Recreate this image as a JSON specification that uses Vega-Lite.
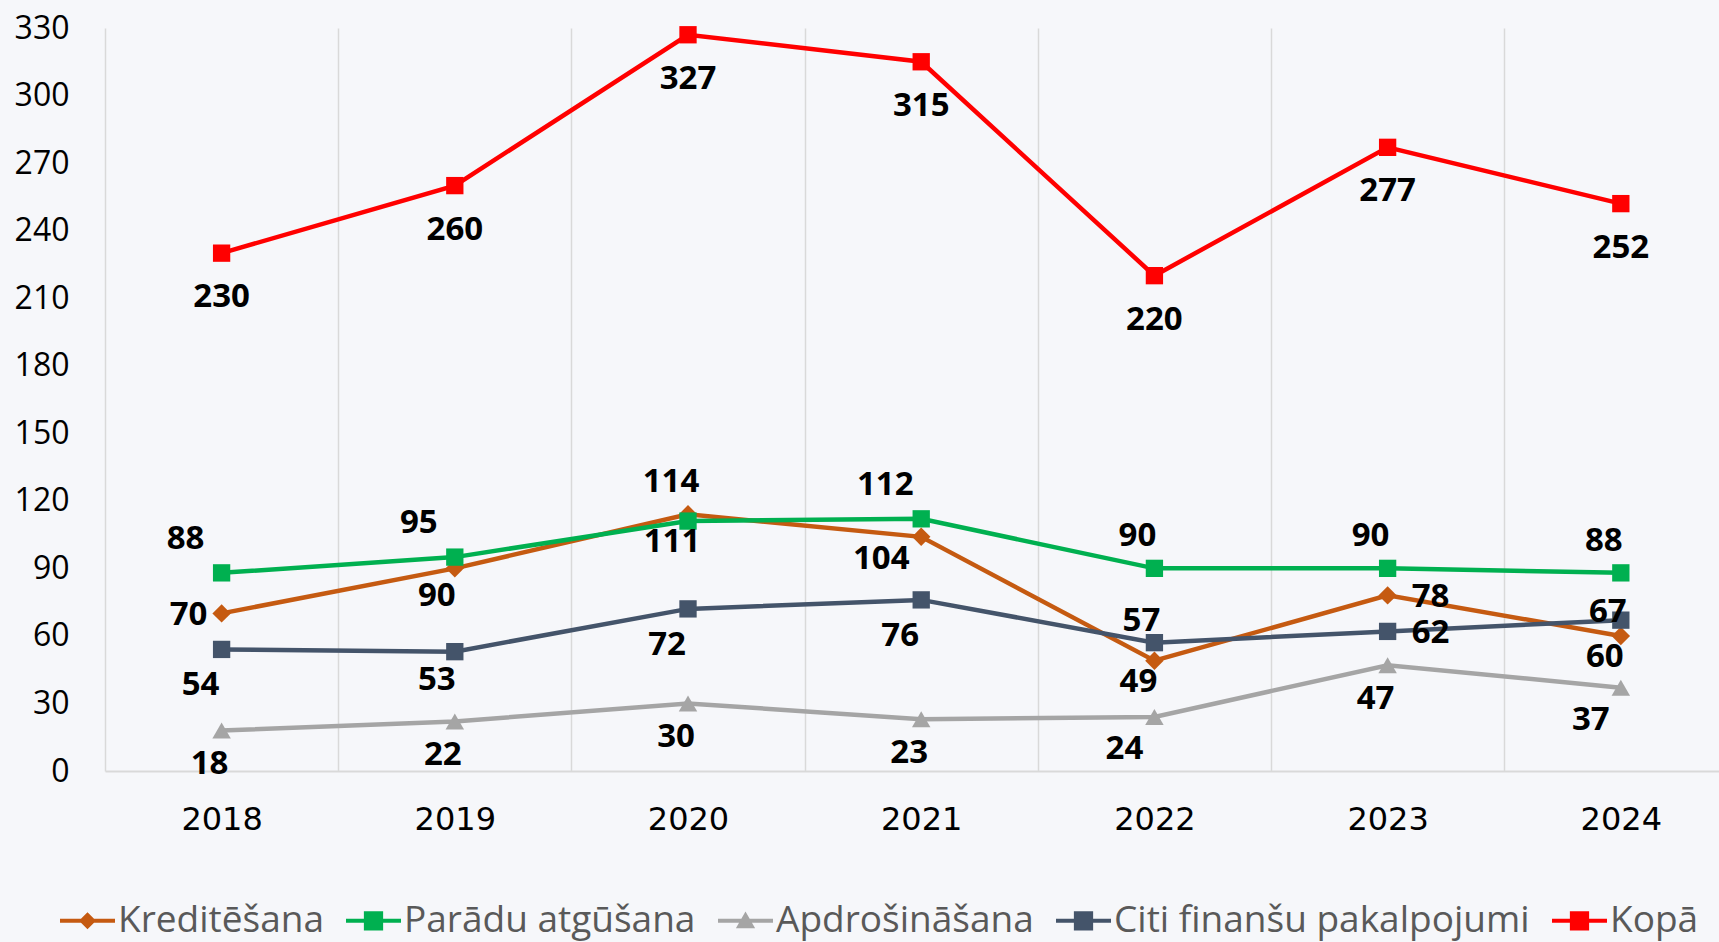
{
  "$schema": "https://vega.github.io/schema/vega-lite/v6.json",
  "autosize": {"type": "none"},
  "width": 1614,
  "height": 743,
  "padding": {"left": 105, "top": 28, "right": 0, "bottom": 171},
  "background": "#f6f7fa",
  "config": {
    "view": {"stroke": null},
    "text": {"font": "Open Sans", "fontSize": 33, "fontWeight": "bold", "fill": "#000000", "align": "center", "baseline": "middle"},
    "legend": {
      "title": null,
      "orient": "none",
      "legendX": -45,
      "legendY": 865,
      "direction": "horizontal",
      "symbolSize": 3025,
      "symbolStrokeWidth": 0,
      "symbolOpacity": 1,
      "labelFont": "Open Sans",
      "labelFontSize": 37,
      "labelColor": "#595959",
      "labelOffset": 3,
      "labelLimit": 0,
      "columnPadding": 22
    }
  },
  "data": {
    "values": [
      {"series": "Kreditēšana", "year": 2018, "value": 70},
      {"series": "Kreditēšana", "year": 2019, "value": 90},
      {"series": "Kreditēšana", "year": 2020, "value": 114},
      {"series": "Kreditēšana", "year": 2021, "value": 104},
      {"series": "Kreditēšana", "year": 2022, "value": 49},
      {"series": "Kreditēšana", "year": 2023, "value": 78},
      {"series": "Kreditēšana", "year": 2024, "value": 60},
      {"series": "Parādu atgūšana", "year": 2018, "value": 88},
      {"series": "Parādu atgūšana", "year": 2019, "value": 95},
      {"series": "Parādu atgūšana", "year": 2020, "value": 111},
      {"series": "Parādu atgūšana", "year": 2021, "value": 112},
      {"series": "Parādu atgūšana", "year": 2022, "value": 90},
      {"series": "Parādu atgūšana", "year": 2023, "value": 90},
      {"series": "Parādu atgūšana", "year": 2024, "value": 88},
      {"series": "Apdrošināšana", "year": 2018, "value": 18},
      {"series": "Apdrošināšana", "year": 2019, "value": 22},
      {"series": "Apdrošināšana", "year": 2020, "value": 30},
      {"series": "Apdrošināšana", "year": 2021, "value": 23},
      {"series": "Apdrošināšana", "year": 2022, "value": 24},
      {"series": "Apdrošināšana", "year": 2023, "value": 47},
      {"series": "Apdrošināšana", "year": 2024, "value": 37},
      {"series": "Citi finanšu pakalpojumi", "year": 2018, "value": 54},
      {"series": "Citi finanšu pakalpojumi", "year": 2019, "value": 53},
      {"series": "Citi finanšu pakalpojumi", "year": 2020, "value": 72},
      {"series": "Citi finanšu pakalpojumi", "year": 2021, "value": 76},
      {"series": "Citi finanšu pakalpojumi", "year": 2022, "value": 57},
      {"series": "Citi finanšu pakalpojumi", "year": 2023, "value": 62},
      {"series": "Citi finanšu pakalpojumi", "year": 2024, "value": 67},
      {"series": "Kopā", "year": 2018, "value": 230},
      {"series": "Kopā", "year": 2019, "value": 260},
      {"series": "Kopā", "year": 2020, "value": 327},
      {"series": "Kopā", "year": 2021, "value": 315},
      {"series": "Kopā", "year": 2022, "value": 220},
      {"series": "Kopā", "year": 2023, "value": 277},
      {"series": "Kopā", "year": 2024, "value": 252}
    ]
  },
  "encoding": {
    "x": {
      "field": "year", "type": "quantitative",
      "scale": {"domain": [2017.5, 2024.421], "nice": false, "zero": false},
      "axis": {
        "title": null,
        "values": [2017.5, 2018.5, 2019.5, 2020.5, 2021.5, 2022.5, 2023.5],
        "labelExpr": "format(datum.value + 0.5, 'd')",
        "labelOffset": 116.6,
        "grid": true, "gridColor": "#d9d9d9", "gridWidth": 1.5,
        "domain": true, "domainColor": "#d9d9d9", "domainWidth": 2,
        "ticks": false,
        "labelFont": "DejaVu Sans", "labelFontSize": 32, "labelColor": "#000000",
        "labelPadding": 33, "labelAlign": "center"
      }
    },
    "y": {
      "field": "value", "type": "quantitative",
      "scale": {"domain": [0, 330], "nice": false},
      "axis": {
        "title": null,
        "values": [0, 30, 60, 90, 120, 150, 180, 210, 240, 270, 300, 330],
        "grid": false, "domain": false, "ticks": false,
        "labelFont": "Open Sans", "labelFontSize": 32, "labelColor": "#000000",
        "labelPadding": 36, "labelBaseline": "middle"
      }
    },
    "color": {
      "field": "series", "type": "nominal",
      "scale": {
        "domain": ["Kreditēšana", "Parādu atgūšana", "Apdrošināšana", "Citi finanšu pakalpojumi", "Kopā"],
        "range": ["#c55a11", "#00b050", "#a5a5a5", "#44546a", "#ff0000"]
      }
    }
  },
  "layer": [
    {
      "mark": {"type": "line", "strokeWidth": 4.5}
    },
    {
      "transform": [{"filter": "datum.value < 0"}],
      "mark": {"type": "point", "filled": true, "opacity": 1},
      "encoding": {
        "shape": {
          "field": "series", "type": "nominal",
          "scale": {
            "domain": ["Kreditēšana", "Parādu atgūšana", "Apdrošināšana", "Citi finanšu pakalpojumi", "Kopā"],
            "range": [
              "M-1,-0.075H1V0.075H-1ZM0,-0.31L0.31,0L0,0.31L-0.31,0Z",
              "M-1,-0.075H1V0.075H-1ZM-0.35,-0.35H0.35V0.35H-0.35Z",
              "M-1,-0.075H1V0.075H-1ZM0,-0.34L0.35,0.27H-0.35Z",
              "M-1,-0.075H1V0.075H-1ZM-0.35,-0.35H0.35V0.35H-0.35Z",
              "M-1,-0.075H1V0.075H-1ZM-0.35,-0.35H0.35V0.35H-0.35Z"
            ]
          }
        }
      }
    },
    {
      "transform": [{"filter": "datum.series === 'Kreditēšana'"}],
      "mark": {"type": "point", "filled": true, "size": 340, "opacity": 1, "shape": "diamond"}
    },
    {
      "transform": [{"filter": "datum.series === 'Apdrošināšana'"}],
      "mark": {"type": "point", "filled": true, "size": 340, "opacity": 1, "shape": "triangle-up"}
    },
    {
      "transform": [{"filter": "datum.series !== 'Kreditēšana' && datum.series !== 'Apdrošināšana'"}],
      "mark": {"type": "point", "filled": true, "size": 300, "opacity": 1, "shape": "square"}
    },
    {
      "transform": [{"filter": "datum.series === 'Kopā'"}],
      "mark": {"type": "text", "dx": 0, "dy": 44},
      "encoding": {"text": {"field": "value", "type": "quantitative"}, "color": {"value": "#000000"}}
    },
    {
      "transform": [{"filter": "indexof(['Parādu atgūšana|2018','Parādu atgūšana|2019','Parādu atgūšana|2021'], datum.series + '|' + datum.year) >= 0"}],
      "mark": {"type": "text", "dx": -36, "dy": -34},
      "encoding": {"text": {"field": "value", "type": "quantitative"}, "color": {"value": "#000000"}}
    },
    {
      "transform": [{"filter": "indexof(['Parādu atgūšana|2022','Parādu atgūšana|2023','Parādu atgūšana|2024','Kreditēšana|2020'], datum.series + '|' + datum.year) >= 0"}],
      "mark": {"type": "text", "dx": -17, "dy": -32},
      "encoding": {"text": {"field": "value", "type": "quantitative"}, "color": {"value": "#000000"}}
    },
    {
      "transform": [{"filter": "indexof(['Parādu atgūšana|2020','Kreditēšana|2024','Kreditēšana|2022'], datum.series + '|' + datum.year) >= 0"}],
      "mark": {"type": "text", "dx": -16, "dy": 21},
      "encoding": {"text": {"field": "value", "type": "quantitative"}, "color": {"value": "#000000"}}
    },
    {
      "transform": [{"filter": "datum.series === 'Kreditēšana' && datum.year === 2021"}],
      "mark": {"type": "text", "dx": -40, "dy": 22},
      "encoding": {"text": {"field": "value", "type": "quantitative"}, "color": {"value": "#000000"}}
    },
    {
      "transform": [{"filter": "datum.series === 'Kreditēšana' && datum.year === 2018"}],
      "mark": {"type": "text", "dx": -33, "dy": 2},
      "encoding": {"text": {"field": "value", "type": "quantitative"}, "color": {"value": "#000000"}}
    },
    {
      "transform": [{"filter": "indexof(['Kreditēšana|2023','Citi finanšu pakalpojumi|2023'], datum.series + '|' + datum.year) >= 0"}],
      "mark": {"type": "text", "dx": 43, "dy": 2},
      "encoding": {"text": {"field": "value", "type": "quantitative"}, "color": {"value": "#000000"}}
    },
    {
      "transform": [{"filter": "indexof(['Citi finanšu pakalpojumi|2018','Citi finanšu pakalpojumi|2020','Citi finanšu pakalpojumi|2021'], datum.series + '|' + datum.year) >= 0"}],
      "mark": {"type": "text", "dx": -21, "dy": 36},
      "encoding": {"text": {"field": "value", "type": "quantitative"}, "color": {"value": "#000000"}}
    },
    {
      "transform": [{"filter": "indexof(['Kreditēšana|2019','Citi finanšu pakalpojumi|2019'], datum.series + '|' + datum.year) >= 0"}],
      "mark": {"type": "text", "dx": -18, "dy": 28},
      "encoding": {"text": {"field": "value", "type": "quantitative"}, "color": {"value": "#000000"}}
    },
    {
      "transform": [{"filter": "datum.series === 'Citi finanšu pakalpojumi' && datum.year === 2022"}],
      "mark": {"type": "text", "dx": -13, "dy": -22},
      "encoding": {"text": {"field": "value", "type": "quantitative"}, "color": {"value": "#000000"}}
    },
    {
      "transform": [{"filter": "datum.series === 'Citi finanšu pakalpojumi' && datum.year === 2024"}],
      "mark": {"type": "text", "dx": -13, "dy": -8},
      "encoding": {"text": {"field": "value", "type": "quantitative"}, "color": {"value": "#000000"}}
    },
    {
      "transform": [{"filter": "datum.series === 'Apdrošināšana' && indexof([2018, 2019, 2020, 2021, 2023], datum.year) >= 0"}],
      "mark": {"type": "text", "dx": -12, "dy": 34},
      "encoding": {"text": {"field": "value", "type": "quantitative"}, "color": {"value": "#000000"}}
    },
    {
      "transform": [{"filter": "datum.series === 'Apdrošināšana' && indexof([2022, 2024], datum.year) >= 0"}],
      "mark": {"type": "text", "dx": -30, "dy": 32},
      "encoding": {"text": {"field": "value", "type": "quantitative"}, "color": {"value": "#000000"}}
    }
  ]
}
